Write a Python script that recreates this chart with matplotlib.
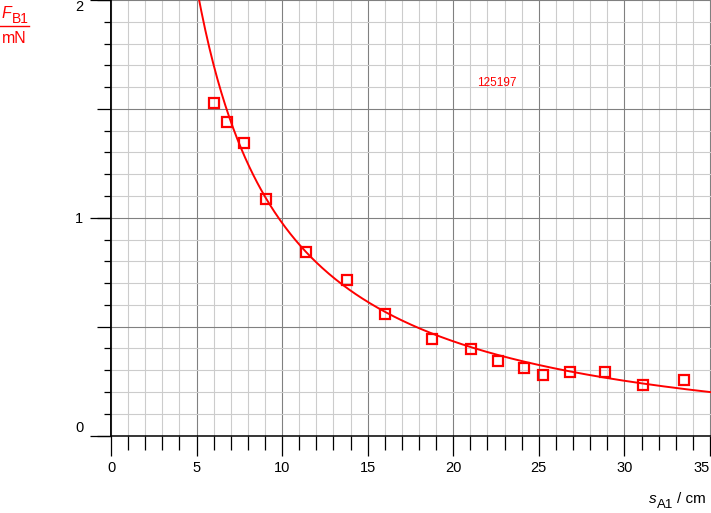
import numpy as np
import matplotlib
matplotlib.use("Agg")
import matplotlib.pyplot as plt
from matplotlib.ticker import MultipleLocator
from matplotlib.lines import Line2D

plt.rcParams['font.family'] = ['Liberation Sans', 'DejaVu Sans']

# measured values: distance s_A1 (cm) and force F_B1 (mN)
s_A1 = [6.04, 6.80, 7.80, 9.05, 11.39, 13.78, 16.0, 18.75,
        21.01, 22.63, 24.15, 25.26, 26.82, 28.89, 31.1, 33.5]
F_B1 = [1.528, 1.44, 1.345, 1.086, 0.842, 0.715, 0.556, 0.443,
        0.398, 0.343, 0.308, 0.279, 0.293, 0.293, 0.232, 0.255]
# fit curve F = a/s + b, coefficients
fit_a, fit_b = 10.87, -0.111
label_id = "125197"

W, H = 711, 513
fig = plt.figure(figsize=(W / 100, H / 100), dpi=100)


def px(x, y):
    # pixel position (from top-left) -> figure fraction
    return x / W, 1 - y / H


ax = fig.add_axes([111 / W, 1 - 435.5 / H, 600 / W, 435.5 / H])
ax.set_xlim(0, 35.06)
ax.set_ylim(0, 2.0)
ax.set_axisbelow(True)

ax.xaxis.set_major_locator(MultipleLocator(5))
ax.xaxis.set_minor_locator(MultipleLocator(1))
ax.yaxis.set_major_locator(MultipleLocator(0.5))
ax.yaxis.set_minor_locator(MultipleLocator(0.1))
ax.grid(which='minor', color='#cccccc', lw=0.8)
ax.grid(which='major', color='#808080', lw=0.8)

for sp in ['top', 'right']:
    ax.spines[sp].set_visible(False)
for sp in ['left', 'bottom']:
    ax.spines[sp].set_linewidth(1.1)
    ax.spines[sp].set_zorder(5)

ax.tick_params(axis='x', which='major', length=14.4, width=0.9, labelsize=10.5, pad=4)
ax.tick_params(axis='x', which='minor', length=10, width=0.9)
ax.tick_params(axis='y', which='major', length=10, width=0.9, labelleft=False)
ax.tick_params(axis='y', which='minor', length=5, width=0.9)
ax.set_xticks(range(0, 36, 5))
ax.get_xticklabels()[-1].set_ha('right')

sec = ax.secondary_yaxis('left')
sec.set_yticks([0, 1, 2])
sec.set_yticklabels(['0', '1', '2'])
sec.tick_params(length=15, width=0.9, labelsize=10.5, pad=5)
sec.spines['left'].set_linewidth(1.1)
labs = sec.get_yticklabels()
labs[0].set_va('bottom')
labs[2].set_va('top')

s_fit = np.linspace(4.5, 35.5, 400)
ax.plot(s_fit, fit_a / s_fit + fit_b, color='red', lw=1.4, zorder=3)
ax.plot(s_A1, F_B1, ls='none', marker='s', ms=7.5, mfc='none', mec='red', mew=1.6, zorder=4)

ax.text(22.56, 1.62, label_id, color='red', fontsize=8.5, ha='center', va='center')

# x axis label: s_A1 / cm
fig.text(*px(649, 503), 's', style='italic', fontsize=11, ha='left', va='baseline')
fig.text(*px(657, 508), 'A1', fontsize=9.5, ha='left', va='baseline')
fig.text(*px(706, 503), '/ cm', fontsize=11, ha='right', va='baseline')

# y axis label: F_B1 over mN
fig.text(*px(2, 18), 'F', style='italic', color='red', fontsize=11.5, ha='left', va='baseline')
fig.text(*px(12, 23), 'B1', color='red', fontsize=10, ha='left', va='baseline')
fig.add_artist(Line2D([0, 29 / W], [1 - 25.5 / H, 1 - 25.5 / H], color='red', lw=1.0))
fig.text(*px(2, 43), 'mN', color='red', fontsize=11.5, ha='left', va='baseline')

fig.savefig('out.png', dpi=100)
